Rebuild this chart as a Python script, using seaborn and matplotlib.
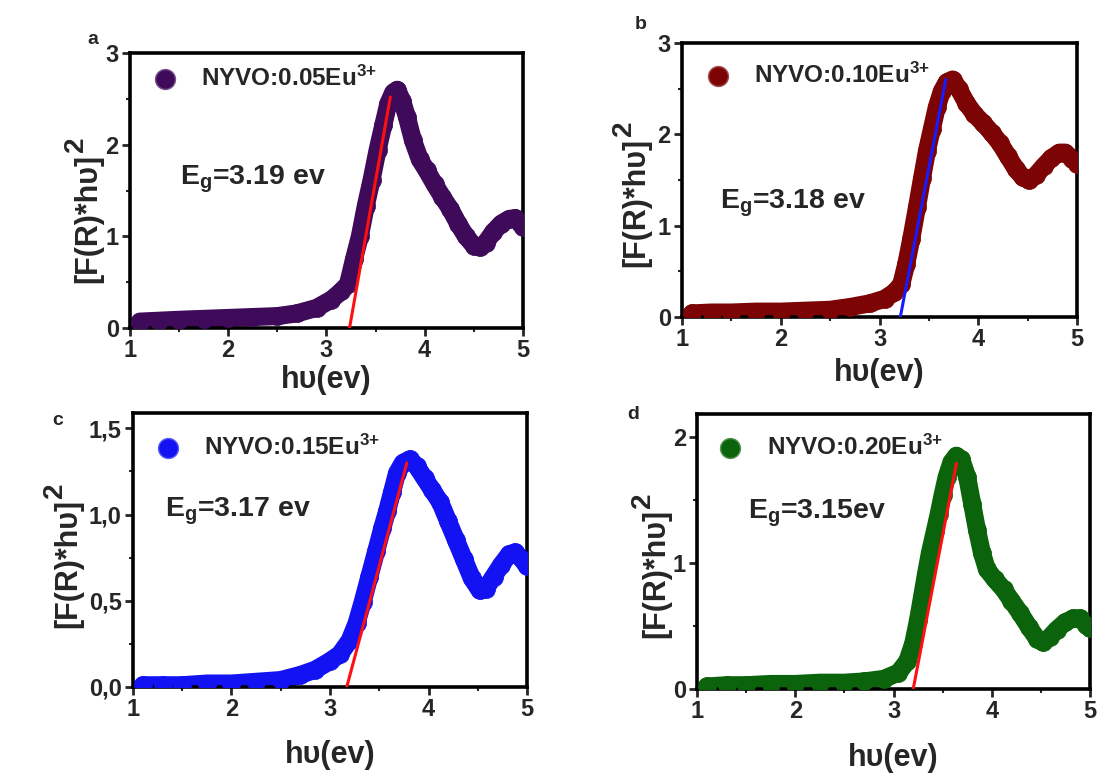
import pandas as pd
import seaborn as sns
import matplotlib.pyplot as plt
from matplotlib.colors import to_rgb
from matplotlib.ticker import AutoMinorLocator

# photon energy hv (eV) and [F(R)*hv]^2
hv_a = [1.10, 1.30, 1.50, 1.75, 2.00, 2.25, 2.50, 2.70, 2.90, 3.05, 3.15, 3.22, 3.28, 3.34,
        3.40, 3.46, 3.52, 3.58, 3.63, 3.68, 3.72, 3.77, 3.82, 3.88, 3.95, 4.02, 4.10, 4.18,
        4.26, 4.34, 4.42, 4.50, 4.56, 4.62, 4.70, 4.78, 4.86, 4.92, 4.97, 5.00]
fr_a = [0.07, 0.08, 0.09, 0.10, 0.11, 0.12, 0.13, 0.16, 0.22, 0.31, 0.40, 0.48, 0.75, 1.00,
        1.33, 1.62, 1.94, 2.22, 2.45, 2.57, 2.60, 2.48, 2.30, 2.05, 1.84, 1.72, 1.57, 1.43,
        1.30, 1.14, 1.00, 0.90, 0.88, 0.93, 1.05, 1.14, 1.19, 1.20, 1.15, 1.10]

hv_b = [1.10, 1.30, 1.50, 1.75, 2.00, 2.25, 2.50, 2.70, 2.90, 3.05, 3.15, 3.22, 3.27, 3.32,
        3.38, 3.43, 3.48, 3.53, 3.58, 3.63, 3.68, 3.74, 3.80, 3.88, 3.96, 4.05, 4.14, 4.22,
        4.30, 4.38, 4.45, 4.51, 4.58, 4.66, 4.74, 4.82, 4.88, 4.95, 5.00]
fr_b = [0.04, 0.05, 0.05, 0.06, 0.06, 0.07, 0.08, 0.11, 0.15, 0.20, 0.27, 0.36, 0.58, 0.85,
        1.21, 1.52, 1.82, 2.06, 2.30, 2.47, 2.57, 2.60, 2.50, 2.34, 2.22, 2.12, 2.01, 1.90,
        1.76, 1.62, 1.53, 1.50, 1.55, 1.65, 1.74, 1.80, 1.80, 1.73, 1.68]

hv_c = [1.10, 1.30, 1.50, 1.75, 2.00, 2.25, 2.50, 2.70, 2.85, 3.00, 3.10, 3.20, 3.27, 3.33,
        3.40, 3.47, 3.53, 3.58, 3.63, 3.68, 3.74, 3.81, 3.88, 3.96, 4.04, 4.12, 4.20, 4.28,
        4.36, 4.44, 4.52, 4.58, 4.66, 4.74, 4.82, 4.88, 4.95, 5.00]
fr_c = [0.01, 0.01, 0.01, 0.02, 0.02, 0.03, 0.04, 0.07, 0.10, 0.15, 0.19, 0.27, 0.37, 0.49,
        0.64, 0.79, 0.92, 1.02, 1.13, 1.24, 1.30, 1.32, 1.28, 1.21, 1.14, 1.07, 0.96, 0.85,
        0.74, 0.63, 0.56, 0.57, 0.64, 0.71, 0.77, 0.78, 0.74, 0.70]

hv_d = [1.10, 1.30, 1.50, 1.75, 2.00, 2.25, 2.50, 2.70, 2.90, 3.05, 3.14, 3.20, 3.25, 3.29,
        3.33, 3.37, 3.42, 3.46, 3.50, 3.54, 3.59, 3.64, 3.69, 3.75, 3.80, 3.85, 3.90, 3.95,
        4.03, 4.12, 4.20, 4.29, 4.38, 4.46, 4.52, 4.59, 4.66, 4.75, 4.83, 4.90, 4.96, 5.00]
fr_d = [0.02, 0.03, 0.03, 0.04, 0.04, 0.05, 0.05, 0.06, 0.08, 0.13, 0.22, 0.36, 0.55, 0.73,
        0.91, 1.08, 1.25, 1.39, 1.54, 1.68, 1.80, 1.85, 1.82, 1.68, 1.47, 1.26, 1.08, 0.95,
        0.87, 0.79, 0.70, 0.60, 0.49, 0.40, 0.37, 0.41, 0.47, 0.53, 0.56, 0.56, 0.51, 0.48]

# Tauc fit lines (end points)
fit_hv_a, fit_fr_a = [3.235, 3.65], [0.0, 2.52]
fit_hv_b, fit_fr_b = [3.21, 3.67], [0.0, 2.60]
fit_hv_c, fit_fr_c = [3.17, 3.78], [0.0, 1.30]
fit_hv_d, fit_fr_d = [3.20, 3.64], [0.0, 1.79]

labels = ['NYVO:0.05Eu$^{3{+}}$', 'NYVO:0.10Eu$^{3{+}}$', 'NYVO:0.15Eu$^{3{+}}$', 'NYVO:0.20Eu$^{3{+}}$']
gaps = ['E$_{g}$=3.19 ev', 'E$_{g}$=3.18 ev', 'E$_{g}$=3.17 ev', 'E$_{g}$=3.15ev']
letters = ['a', 'b', 'c', 'd']
yticks_ab = [0, 1, 2, 3]
yticks_c = [0.0, 0.5, 1.0, 1.5]
yticklabels_c = ['0,0', '0,5', '1,0', '1,5']
yticks_d = [0, 1, 2]

sns.set_style('white')
plt.rcParams['font.family'] = ['Liberation Sans', 'DejaVu Sans']
plt.rcParams['font.weight'] = 'bold'
plt.rcParams['axes.labelweight'] = 'bold'
plt.rcParams['mathtext.fontset'] = 'custom'
plt.rcParams['mathtext.rm'] = 'Liberation Sans:bold'
plt.rcParams['mathtext.bf'] = 'Liberation Sans:bold'
plt.rcParams['mathtext.it'] = 'Liberation Sans:bold'
plt.rcParams['mathtext.default'] = 'bf'

fig = plt.figure(figsize=(11.1, 7.81), dpi=100)

panels = [
    dict(hv=hv_a, fr=fr_a, fit=(fit_hv_a, fit_fr_a), fitc='#ff1010', color='#3f0a5a',
         rect=[0.1171, 0.580, 0.354, 0.352], ylim=(0, 3), yticks=yticks_ab, ytl=None,
         leg=(0.058, 0.91), eg=(0.127, 0.54), ylab=(-0.105, 0.40), xlab_y=-0.135, let=(0.084, 0.949)),
    dict(hv=hv_b, fr=fr_b, fit=(fit_hv_b, fit_fr_b), fitc='#1a1aff', color='#7d0404',
         rect=[0.6144, 0.594, 0.356, 0.351], ylim=(0, 3), yticks=yticks_ab, ytl=None,
         leg=(0.060, 0.883), eg=(0.096, 0.416), ylab=(-0.116, 0.42), xlab_y=-0.150, let=(0.577, 0.968)),
    dict(hv=hv_c, fr=fr_c, fit=(fit_hv_c, fit_fr_c), fitc='#ff1010', color='#1212f2',
         rect=[0.1198, 0.1204, 0.355, 0.351], ylim=(0, 1.59), yticks=yticks_c, ytl=yticklabels_c,
         leg=(0.058, 0.876), eg=(0.081, 0.64), ylab=(-0.165, 0.45), xlab_y=-0.193, let=(0.052, 0.461)),
    dict(hv=hv_d, fr=fr_d, fit=(fit_hv_d, fit_fr_d), fitc='#ff1010', color='#0b640b',
         rect=[0.628, 0.1178, 0.354, 0.352], ylim=(0, 2.18), yticks=yticks_d, ytl=None,
         leg=(0.053, 0.88), eg=(0.13, 0.64), ylab=(-0.105, 0.42), xlab_y=-0.196, let=(0.570, 0.469)),
]

for i, p in enumerate(panels):
    ax = fig.add_axes(p['rect'])
    df = pd.DataFrame({'hv': p['hv'], 'F': p['fr']})
    rgb = to_rgb(p['color'])
    light = tuple(0.7 * c + 0.3 for c in rgb)

    # thick band of overlapping spheres
    sns.lineplot(data=df, x='hv', y='F', ax=ax, color=p['color'], lw=13,
                 solid_capstyle='round', solid_joinstyle='round', zorder=2)
    sns.scatterplot(data=df, x='hv', y='F', ax=ax, color=p['color'], s=170,
                    edgecolor=p['color'], linewidth=0.5, zorder=3, label=labels[i])
    ax.plot(p['fit'][0], p['fit'][1], color=p['fitc'], lw=2.2, zorder=4)

    ax.set_xlim(1, 5)
    ax.set_ylim(*p['ylim'])
    ax.set_xticks([1, 2, 3, 4, 5])
    ax.set_yticks(p['yticks'])
    if p['ytl'] is not None:
        ax.set_yticklabels(p['ytl'])
    ax.xaxis.set_minor_locator(AutoMinorLocator(2))
    ax.yaxis.set_minor_locator(AutoMinorLocator(2))
    ax.tick_params(which='major', direction='out', length=6, width=2, labelsize=17,
                   left=True, bottom=True, top=False, right=False, pad=2)
    ax.tick_params(which='minor', direction='out', length=3, width=1.5,
                   left=True, bottom=True, top=False, right=False)
    plt.setp(ax.get_xticklabels() + ax.get_yticklabels(), fontweight='bold')
    for sp in ax.spines.values():
        sp.set_linewidth(2.6)
        sp.set_color('black')

    ax.set_xlabel('h\u03c5(ev)', fontsize=22, fontweight='bold')
    ax.xaxis.set_label_coords(0.5, p['xlab_y'])
    ax.xaxis.label.set_va('top')

    # y label with a full-size raised "2"
    ax.set_ylabel('[F(R)*h\u03c5]', fontsize=22, fontweight='bold')
    ax.yaxis.label.set_va('center')
    ax.yaxis.set_label_coords(*p['ylab'])
    ax.annotate('2', xy=(0.5, 1.0), xycoords=ax.yaxis.label, xytext=(-9, 1),
                textcoords='offset points', rotation=90, ha='center', va='bottom',
                fontsize=20, fontweight='bold', annotation_clip=False)

    leg = ax.legend(loc='center left', bbox_to_anchor=p['leg'], frameon=False,
                    handlelength=1.0, handletextpad=1.0, borderpad=0, borderaxespad=0,
                    markerscale=1.1, prop={'size': 17.5, 'weight': 'bold'})
    for h in leg.legend_handles:
        h.set_edgecolor(light)
        h.set_linewidth(1.0)
    ax.text(p['eg'][0], p['eg'][1], gaps[i], transform=ax.transAxes,
            fontsize=20.5, fontweight='bold', va='center', ha='left')
    fig.text(p['let'][0], p['let'][1], letters[i], fontsize=14, fontweight='bold',
             ha='center', va='center')

fig.savefig('out.png', dpi=100)
